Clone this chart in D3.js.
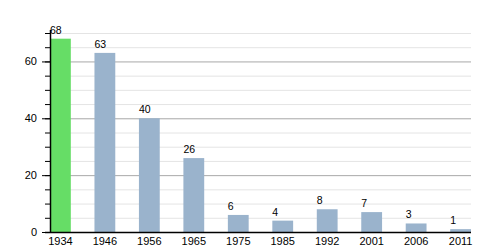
<!DOCTYPE html>
<html><head><meta charset="utf-8">
<script src="https://cdn.jsdelivr.net/npm/d3@7"></script>
<style>body{margin:0;background:#fff}svg{display:block}text{font-family:"Liberation Sans",Arial,sans-serif;fill:#000}</style>
</head><body><svg id="c" width="500" height="250"></svg>
<script>
const years = ["1934","1946","1956","1965","1975","1985","1992","2001","2006","2011"];
const values = [68,63,40,26,6,4,8,7,3,1];
const highlight = ["1934"];
const majorTicks = [0,20,40,60];
const minorTicks = d3.range(0,71,5);

const svg = d3.select("#c");
const x0 = 50, x1 = 471, yTop = 33, yBot = 232;
const x = d3.scaleBand().domain(years).range([x0, x1]).paddingInner(0.532).paddingOuter(0);
const y = d3.scaleLinear().domain([0,70]).range([yBot, yTop]);

// grid
svg.append("g").selectAll("line").data(minorTicks.filter(v=>v>0 && !majorTicks.includes(v))).join("line")
  .attr("x1",x0).attr("x2",x1).attr("y1",d=>y(d)+0.5).attr("y2",d=>y(d)+0.5)
  .attr("stroke","#e4e4e4").attr("stroke-width",1);
svg.append("g").selectAll("line").data(majorTicks.filter(v=>v>0)).join("line")
  .attr("x1",x0).attr("x2",x1).attr("y1",d=>y(d)+0.5).attr("y2",d=>y(d)+0.5)
  .attr("stroke","#a8a8a8").attr("stroke-width",1);

// bars
svg.append("g").selectAll("rect").data(years).join("rect")
  .attr("x",d=>x(d)).attr("width",x.bandwidth())
  .attr("y",(d,i)=>y(values[i])).attr("height",(d,i)=>y(0)-y(values[i]))
  .attr("fill",d=>highlight.includes(d)?"#66dd66":"#9ab3cc");

// value labels
svg.append("g").selectAll("text").data(years).join("text")
  .attr("x",d=>x(d)).attr("y",(d,i)=>y(values[i])-5)
  .attr("font-size",10.5).text((d,i)=>values[i]);

// y axis
const yAxisMinor = d3.axisLeft(y).tickValues(minorTicks).tickSize(5).tickFormat("");
const gyMin = svg.append("g").attr("transform",`translate(${x0},0)`).call(yAxisMinor);
gyMin.select(".domain").remove();
const yAxis = d3.axisLeft(y).tickValues(majorTicks).tickSize(8).tickPadding(5).tickFormat(d3.format("d"));
const gy = svg.append("g").attr("transform",`translate(${x0},0)`).call(yAxis);
gy.select(".domain").remove();
svg.selectAll(".tick line").attr("stroke","#000");
gy.selectAll("text").attr("font-size",11).style("font-family","'Liberation Sans',Arial,sans-serif");
svg.append("line").attr("x1",x0+0.5).attr("x2",x0+0.5).attr("y1",yTop-3).attr("y2",yBot).attr("stroke","#000").attr("stroke-width",1.5);

// x axis
const xAxis = d3.axisBottom(x).tickSize(0).tickPadding(5);
const gx = svg.append("g").attr("transform",`translate(0,${yBot})`).call(xAxis);
gx.select(".domain").remove();
gx.selectAll("text").attr("font-size",11).style("font-family","'Liberation Sans',Arial,sans-serif");
svg.append("line").attr("x1",45).attr("x2",x1).attr("y1",yBot+0.5).attr("y2",yBot+0.5).attr("stroke","#000").attr("stroke-width",1.5);
</script></body></html>
